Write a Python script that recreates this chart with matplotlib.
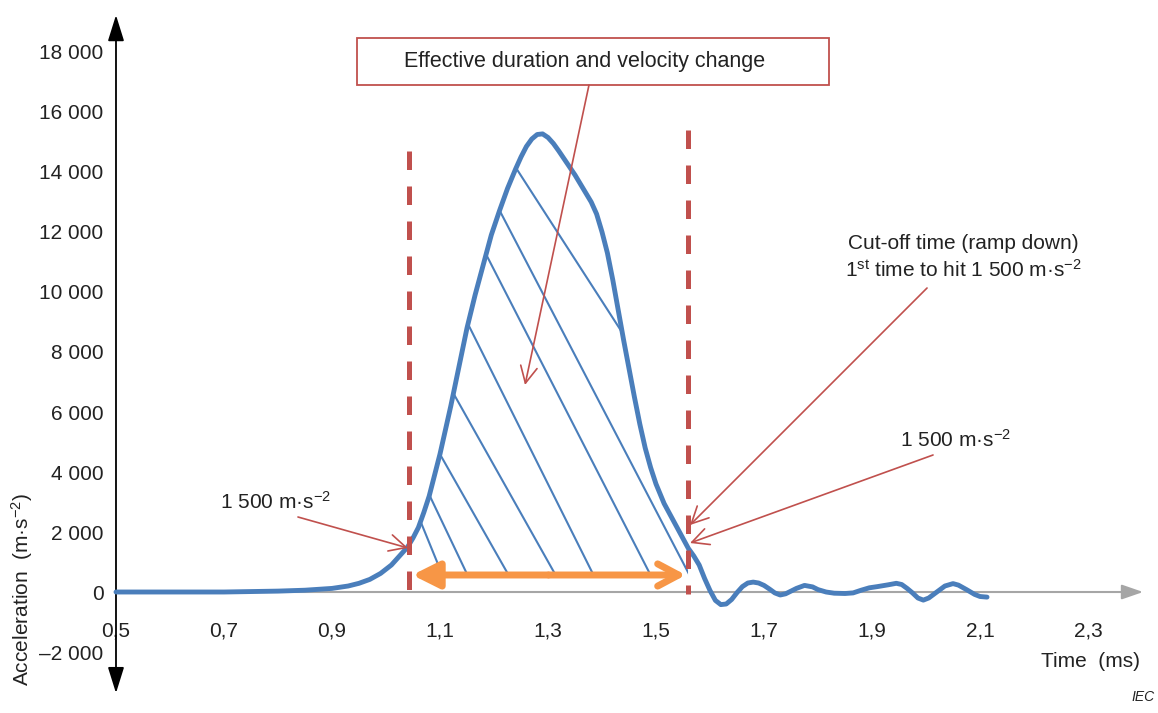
import numpy as np
import matplotlib
matplotlib.use('Agg')
import matplotlib.pyplot as plt
from matplotlib.patches import Rectangle, Polygon
from matplotlib.collections import LineCollection

plt.rcParams['font.family'] = ['Liberation Sans', 'DejaVu Sans']
plt.rcParams['mathtext.fontset'] = 'custom'
plt.rcParams['mathtext.rm'] = 'Liberation Sans'
plt.rcParams['mathtext.it'] = 'Liberation Sans:italic'
plt.rcParams['mathtext.default'] = 'regular'

# ---------------- data ----------------
time_ms = [0.50, 0.60, 0.70, 0.80, 0.85, 0.90, 0.93, 0.95, 0.97, 0.99, 1.01, 1.025,
           1.04, 1.05, 1.06, 1.07, 1.08, 1.09, 1.10, 1.11, 1.12, 1.135, 1.15, 1.165,
           1.18, 1.195, 1.21, 1.225, 1.24, 1.25, 1.26, 1.27, 1.28, 1.29, 1.30, 1.31,
           1.32, 1.335, 1.35, 1.36, 1.37, 1.38, 1.39, 1.40, 1.41, 1.42, 1.43, 1.44,
           1.45, 1.46, 1.47, 1.48, 1.49, 1.50, 1.515, 1.53, 1.545, 1.56, 1.57, 1.58,
           1.59, 1.60, 1.61, 1.62, 1.63, 1.64, 1.65, 1.66, 1.67, 1.68, 1.69, 1.70,
           1.71, 1.72, 1.73, 1.74, 1.75, 1.76, 1.775, 1.79, 1.80, 1.815, 1.83, 1.85,
           1.865, 1.88, 1.895, 1.91, 1.93, 1.945, 1.955, 1.965, 1.975, 1.985, 1.995,
           2.005, 2.02, 2.035, 2.05, 2.06, 2.075, 2.09, 2.10, 2.113]
accel = [0, 0, 0, 30, 60, 120, 200, 290, 420, 620, 900, 1200,
         1500, 1800, 2150, 2650, 3200, 3900, 4600, 5400, 6200, 7500, 8800, 9900,
         10900, 11900, 12700, 13450, 14100, 14500, 14850, 15100, 15250, 15270, 15150, 14950,
         14700, 14300, 13900, 13600, 13300, 13000, 12600, 12000, 11300, 10400, 9400, 8400,
         7450, 6500, 5600, 4800, 4150, 3600, 2950, 2450, 1950, 1450, 1200, 900,
         450, 50, -280, -420, -400, -250, -20, 180, 300, 330, 300, 220,
         100, -30, -100, -60, 30, 120, 220, 170, 80, 0, -40, -50,
         -30, 60, 140, 180, 240, 290, 250, 120, -30, -200, -270,
         -200, 0, 200, 280, 230, 80, -80, -150, -170]

y_ticks = [-2000, 0, 2000, 4000, 6000, 8000, 10000, 12000, 14000, 16000, 18000]
y_tick_labels = ['\u20132 000', '0', '2 000', '4 000', '6 000', '8 000', '10 000',
                 '12 000', '14 000', '16 000', '18 000']
x_ticks = [0.5, 0.7, 0.9, 1.1, 1.3, 1.5, 1.7, 1.9, 2.1, 2.3]
x_tick_labels = ['0,5', '0,7', '0,9', '1,1', '1,3', '1,5', '1,7', '1,9', '2,1', '2,3']

t_start = 1.0426      # first crossing of 1 500 m/s2 (ramp up)
t_cut = 1.5593        # cut-off time (ramp down)

# hatch lines: x where each line crosses the base level, and its slope
hatch_base_y = 600
hatch_x = [1.1037, 1.150, 1.2259, 1.313, 1.3833, 1.4889, 1.561, 1.7259]
hatch_slope = [-44100, -37800, -31700, -32000, -36000, -35100, -34560, -27900]

# ---------------- figure ----------------
fig = plt.figure(figsize=(11.58, 7.13), dpi=100)
ax = fig.add_axes([0, 0, 1, 1])
ax.set_xlim(0.2852, 2.4296)
ax.set_ylim(-4033, 19733)

FS = 15

for s in ax.spines.values():
    s.set_visible(False)
ax.spines['left'].set_position(('data', 0.5))
ax.spines['bottom'].set_position(('data', 0))

ax.set_yticks(y_ticks)
ax.set_yticklabels(y_tick_labels)
ax.set_xticks(x_ticks)
ax.set_xticklabels(x_tick_labels)
ax.tick_params(axis='both', length=0, labelsize=FS, colors='#222222')
ax.tick_params(axis='y', pad=9.0)
ax.tick_params(axis='x', pad=21)

txt_col = '#222222'
red = '#c0504d'
blue = '#4a7ebb'
orange = '#f79646'

# axes arrows
ax.annotate('', xy=(2.402, 0), xytext=(0.5, 0),
            arrowprops=dict(arrowstyle='-|>,head_length=1.3,head_width=0.45',
                            mutation_scale=10, lw=1.5, color='#a6a6a6',
                            shrinkA=0, shrinkB=0), zorder=1)
ax.annotate('', xy=(0.5, 19230), xytext=(0.5, -3370),
            arrowprops=dict(arrowstyle='<|-|>,head_length=1.6,head_width=0.5',
                            mutation_scale=10, lw=1.3, color='black',
                            shrinkA=0, shrinkB=0), zorder=2)

# hatching clipped to the area under the curve between the two times
t_arr = np.array(time_ms)
a_arr = np.array(accel)
inside = (t_arr > t_start) & (t_arr < t_cut)
top_t = np.concatenate([[t_start], t_arr[inside], [t_cut]])
top_a = np.concatenate([[np.interp(t_start, t_arr, a_arr)], a_arr[inside],
                        [np.interp(t_cut, t_arr, a_arr)]])
floor = 500
verts = list(zip(top_t, top_a)) + [(t_cut, floor), (t_start, floor)]
clip_poly = Polygon(verts, closed=True, transform=ax.transData,
                    facecolor='none', edgecolor='none')
segs = []
for xb, sl in zip(hatch_x, hatch_slope):
    y0, y1 = -2000, 17000
    segs.append([(xb + (y0 - hatch_base_y) / sl, y0),
                 (xb + (y1 - hatch_base_y) / sl, y1)])
lc = LineCollection(segs, colors=blue, linewidths=1.5, zorder=3)
ax.add_collection(lc)
lc.set_clip_path(clip_poly)

# main curve
ax.plot(time_ms, accel, color=blue, lw=3.5, solid_capstyle='round',
        solid_joinstyle='round', zorder=4)

# dashed lines at threshold crossings
ax.plot([t_start, t_start], [14700, -60], color=red, lw=3.6,
        linestyle=(0, (3.7, 3.3)), zorder=5)
ax.plot([t_cut, t_cut], [15400, -60], color=red, lw=3.6,
        linestyle=(0, (3.7, 3.3)), zorder=5)

# orange double arrow
mid_t = (t_start + t_cut) / 2
ax.annotate('', xy=(t_start + 0.006, 567), xytext=(mid_t, 567),
            arrowprops=dict(arrowstyle='-|>,head_length=1.6,head_width=0.8',
                            mutation_scale=10, lw=5, color=orange,
                            shrinkA=0, shrinkB=0), zorder=6)
ax.annotate('', xy=(t_cut - 0.004, 567), xytext=(mid_t, 567),
            arrowprops=dict(arrowstyle='->,head_length=1.5,head_width=0.8',
                            mutation_scale=10, lw=5, color=orange,
                            shrinkA=0, shrinkB=0), zorder=6)

# box with title
ax.add_patch(Rectangle((0.9463, 16900), 0.8741, 1567, facecolor='white',
                       edgecolor=red, lw=1.3, zorder=6))
ax.text(1.3685, 17683, 'Effective duration and velocity change', ha='center',
        va='center', fontsize=FS + 0.5, color=txt_col, zorder=7)

red_arrow = dict(arrowstyle='->,head_length=1.2,head_width=0.6',
                 mutation_scale=10, lw=1.2, color=red, shrinkA=0, shrinkB=0)
ax.annotate('', xy=(1.2574, 6900), xytext=(1.3759, 16900),
            arrowprops=red_arrow, zorder=7)

# left 1500 label
ax.text(0.7944, 3000, '1 500 m\u00b7s$^{-2}$', ha='center', va='center',
        fontsize=FS, color=txt_col)
ax.annotate('', xy=(1.0407, 1467), xytext=(0.837, 2500),
            arrowprops=red_arrow, zorder=7)

# right 1500 label
ax.text(2.0537, 5067, '1 500 m\u00b7s$^{-2}$', ha='center', va='center',
        fontsize=FS, color=txt_col)
ax.annotate('', xy=(1.563, 1633), xytext=(2.013, 4567),
            arrowprops=red_arrow, zorder=7)

# cut-off label
ax.text(2.0685, 11633, 'Cut-off time (ramp down)', ha='center', va='center',
        fontsize=FS, color=txt_col)
ax.text(2.0685, 10733, '1$^{st}$ time to hit 1 500 m\u00b7s$^{-2}$', ha='center',
        va='center', fontsize=FS, color=txt_col)
ax.annotate('', xy=(1.563, 2233), xytext=(2.0019, 10133),
            arrowprops=red_arrow, zorder=7)

# axis titles
ax.text(0.326, 100, 'Acceleration  (m\u00b7s$^{-2}$)', rotation=90, ha='center',
        va='center', fontsize=FS, color=txt_col)
ax.text(2.3037, -2333, 'Time  (ms)', ha='center', va='center', fontsize=FS,
        color=txt_col)

fig.text(0.997, 0.012, 'IEC', ha='right', va='bottom', fontsize=10,
         style='italic', color=txt_col)

fig.savefig('out.png', dpi=100)
